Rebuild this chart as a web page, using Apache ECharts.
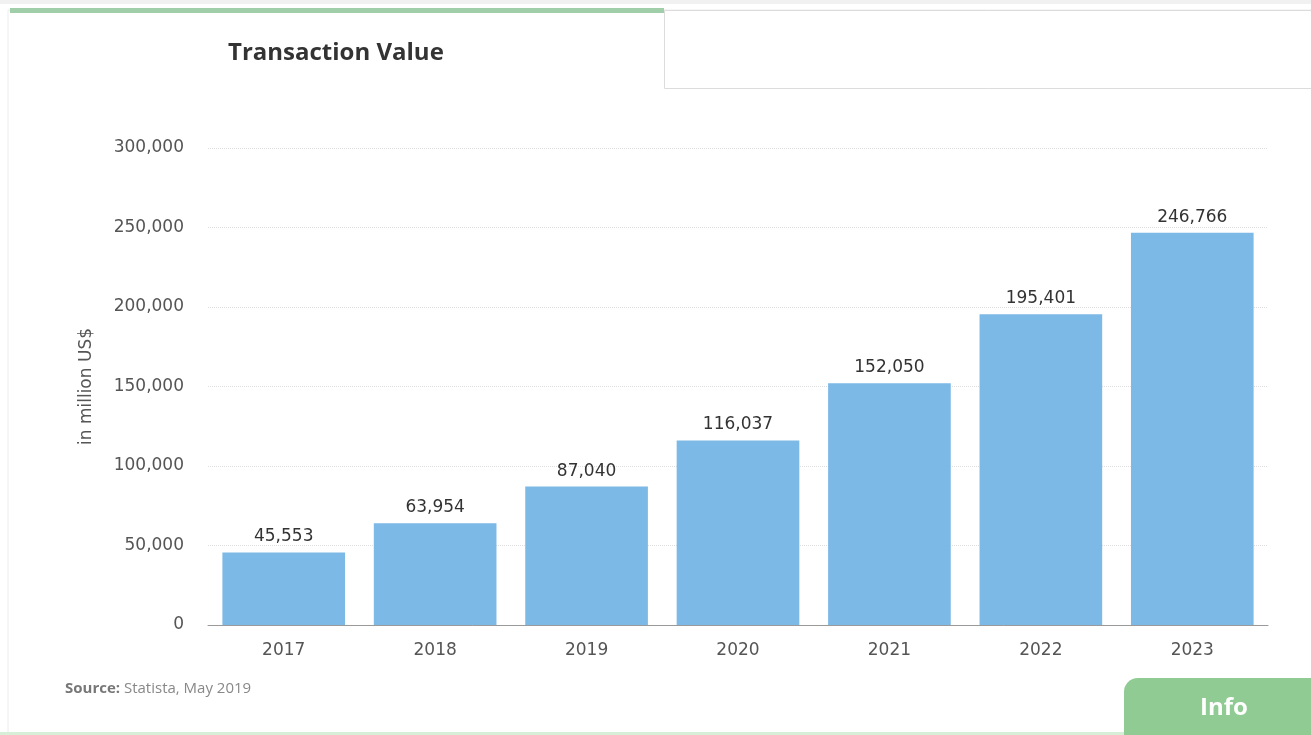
<!DOCTYPE html>
<html>
<head>
<meta charset="utf-8">
<script src="https://cdn.jsdelivr.net/npm/echarts@6/dist/echarts.min.js"></script>
<style>
html,body{margin:0;padding:0;background:#fff;}
#c{width:1311px;height:735px;}
</style>
</head>
<body>
<div id="c"></div>
<script>
const categories = ['2017','2018','2019','2020','2021','2022','2023'];
const values = [45553, 63954, 87040, 116037, 152050, 195401, 246766];
const yTicks = [0, 50000, 100000, 150000, 200000, 250000, 300000];

const fmt = v => v.toLocaleString('en-US');
const chart = echarts.init(document.getElementById('c'));
chart.setOption({
  animation: false,
  backgroundColor: '#fff',
  grid: { left: 208, right: 43, top: 148, bottom: 110 },
  graphic: [
    { type: 'rect', shape: { x: 0, y: 0, width: 1311, height: 4 }, style: { fill: '#f1f1f1' } },
    { type: 'rect', shape: { x: 8, y: 10, width: 1310, height: 730 }, style: { fill: 'none', stroke: '#ececec', lineWidth: 1 } },
    { type: 'rect', shape: { x: 10, y: 8, width: 654, height: 5 }, style: { fill: '#9fcea8' } },
    { type: 'rect', shape: { x: 664.5, y: 10.5, width: 660, height: 78 }, style: { fill: '#fff', stroke: '#dcdcdc', lineWidth: 1 } },
    { type: 'text', left: 228, top: 41, style: { text: 'Transaction Value', font: 'bold 24px "Open Sans"', fill: '#333' } },
    { type: 'text', left: 65, top: 681, style: {
        text: '{b|Source:} Statista, May 2019',
        rich: { b: { fontWeight: 'bold', fontFamily: 'Open Sans', fontSize: 15, fill: '#777' } },
        font: '15px "Open Sans"', fill: '#888' } },
    { type: 'rect', shape: { x: 0, y: 732, width: 1311, height: 3 }, style: { fill: '#d7eed7' } },
    { type: 'rect', shape: { x: 1124, y: 678, width: 200, height: 60, r: [14, 0, 0, 0] }, style: { fill: '#8fcb92' } },
    { type: 'text', left: 1200, top: 696, style: { text: 'Info', font: 'bold 24px "Open Sans"', fill: '#fff' } }
  ],
  xAxis: {
    type: 'category',
    data: categories,
    axisLine: { lineStyle: { color: '#9a9a9a', width: 1 } },
    axisTick: { show: false },
    axisLabel: { color: '#555', fontFamily: 'DejaVu Sans', fontSize: 17, margin: 17 }
  },
  yAxis: {
    type: 'value',
    min: 0, max: 300000, interval: 50000,
    name: 'in million US$',
    nameLocation: 'middle',
    nameGap: 113,
    nameRotate: 90,
    nameTextStyle: { color: '#555', fontFamily: 'DejaVu Sans', fontSize: 17 },
    axisLine: { show: false },
    axisTick: { show: false },
    axisLabel: { color: '#555', fontFamily: 'DejaVu Sans', fontSize: 17, margin: 24,
      formatter: v => yTicks.includes(v) ? fmt(v) : '' },
    splitLine: { lineStyle: { color: '#dedede', type: 'dotted', width: 1 } }
  },
  series: [{
    type: 'bar',
    data: values,
    barCategoryGap: '19%',
    itemStyle: { color: '#7db9e6' },
    label: { show: true, position: 'top', distance: 7, color: '#333', fontFamily: 'DejaVu Sans', fontSize: 17,
      formatter: p => fmt(p.value) }
  }]
});
</script>
</body>
</html>
